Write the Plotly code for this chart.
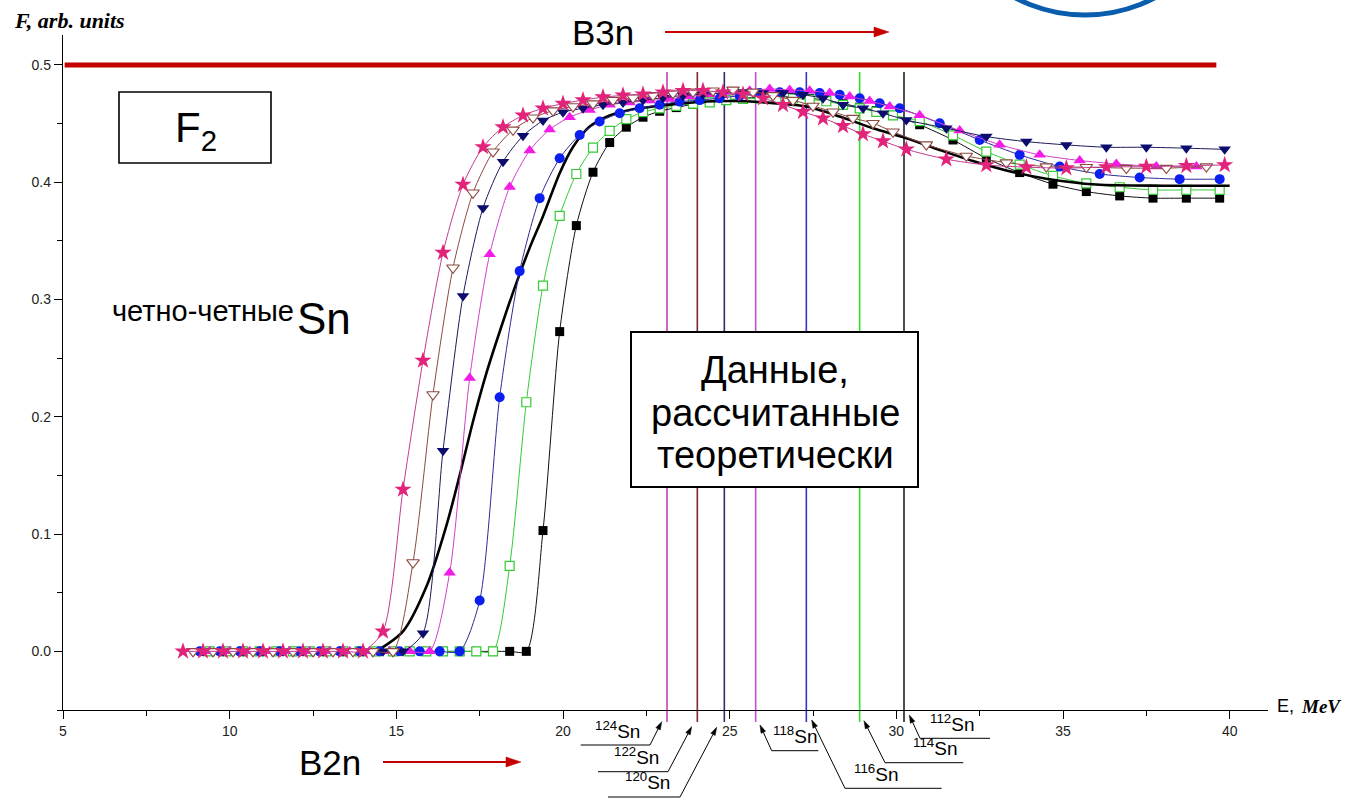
import math
import plotly.graph_objects as go

# ------------------------------------------------------------------ data
# 124Sn (stars)
x_124 = [8.6, 9.2, 9.8, 10.4, 11.0, 11.6, 12.2, 12.8, 13.4, 14.0, 14.6, 15.2, 15.8, 16.4, 17.0,
         17.6, 18.2, 18.8, 19.4, 20.0, 20.6, 21.2, 21.8, 22.4, 23.0, 23.6, 24.2, 24.8, 25.4, 26.0,
         26.6, 27.2, 27.8, 28.4, 29.0, 29.6, 30.3, 31.5, 32.7, 33.9, 35.1, 36.3, 37.5, 38.7, 39.85]
y_124 = [0, 0, 0, 0, 0, 0, 0, 0, 0, 0, 0.017, 0.138, 0.248, 0.340, 0.398,
         0.430, 0.447, 0.457, 0.463, 0.467, 0.470, 0.4725, 0.474, 0.475, 0.4767, 0.478, 0.478, 0.4767, 0.475, 0.4716,
         0.466, 0.460, 0.4545, 0.448, 0.441, 0.435, 0.428, 0.4196, 0.4147, 0.4128, 0.412, 0.413, 0.4133, 0.414, 0.4147]

# 122Sn (open down-triangles)
x_122 = [8.9, 9.5, 10.1, 10.7, 11.3, 11.9, 12.5, 13.1, 13.7, 14.3, 14.9, 15.5, 16.1, 16.7, 17.3,
         17.9, 18.5, 19.1, 19.7, 20.3, 20.9, 21.5, 22.1, 22.7, 23.3, 23.9, 24.5, 25.1, 25.7, 26.3,
         26.9, 27.5, 28.1, 28.7, 29.3, 29.9, 30.9, 32.1, 33.3, 34.5, 35.7, 36.9, 38.1, 39.3]
y_122 = [0, 0, 0, 0, 0, 0, 0, 0, 0, 0, 0, 0.0757, 0.219, 0.327, 0.391,
         0.426, 0.4446, 0.455, 0.461, 0.4645, 0.467, 0.470, 0.472, 0.474, 0.476, 0.477, 0.478, 0.4787, 0.477, 0.474,
         0.470, 0.465, 0.460, 0.4546, 0.4503, 0.443, 0.432, 0.4224, 0.4167, 0.4133, 0.4128, 0.412, 0.412, 0.4133]

# 120Sn (filled down-triangles)
x_120 = [9.2, 9.8, 10.4, 11.0, 11.6, 12.2, 12.8, 13.4, 14.0, 14.6, 15.2, 15.8, 16.4, 17.0,
         17.6, 18.2, 18.8, 19.4, 20.0, 20.6, 21.2, 21.8, 22.4, 23.0, 23.6, 24.2, 24.8, 25.4, 26.0,
         26.6, 27.2, 27.8, 28.4, 29.0, 29.6, 30.3, 31.5, 32.7, 33.9, 35.1, 36.3, 37.5, 38.7, 39.85]
y_120 = [0, 0, 0, 0, 0, 0, 0, 0, 0, 0, 0, 0.0155, 0.171, 0.303,
         0.378, 0.4175, 0.4395, 0.4525, 0.4597, 0.463, 0.466, 0.468, 0.470, 0.472, 0.474, 0.475, 0.476, 0.477, 0.476,
         0.476, 0.4745, 0.4716, 0.466, 0.463, 0.4588, 0.453, 0.446, 0.4389, 0.4346, 0.4318, 0.4298, 0.4298, 0.429, 0.428]

# 118Sn (filled up-triangles)
x_118 = [9.4, 10.0, 10.6, 11.2, 11.8, 12.4, 13.0, 13.6, 14.2, 14.8, 15.4, 16.0, 16.6, 17.2,
         17.8, 18.4, 19.0, 19.6, 20.2, 20.8, 21.4, 22.0, 22.6, 23.2, 23.8, 24.4, 25.0, 25.6, 26.2,
         26.8, 27.4, 28.0, 28.6, 29.2, 29.8, 30.7, 31.9, 33.1, 34.3, 35.5, 36.6, 37.8, 39.0]
y_118 = [0, 0, 0, 0, 0, 0, 0, 0, 0, 0, 0, 0, 0.067, 0.233,
         0.3385, 0.396, 0.427, 0.445, 0.4554, 0.4616, 0.466, 0.468, 0.4696, 0.471, 0.473, 0.475, 0.477, 0.478, 0.4795,
         0.4787, 0.478, 0.476, 0.473, 0.4693, 0.4645, 0.457, 0.444, 0.432, 0.4233, 0.4185, 0.4156, 0.4133, 0.4133]

# 116Sn (filled circles)
x_116 = [9.1, 9.7, 10.3, 10.9, 11.5, 12.1, 12.7, 13.3, 13.9, 14.5, 15.1, 15.7, 16.3, 16.9,
         17.5, 18.1, 18.7, 19.3, 19.9, 20.5, 21.1, 21.7, 22.3, 22.9, 23.5, 24.1, 24.7, 25.3, 25.9,
         26.5, 27.1, 27.7, 28.3, 28.9, 29.5, 30.1, 31.3, 32.5, 33.7, 34.9, 36.1, 37.3, 38.5, 39.7]
y_116 = [0, 0, 0, 0, 0, 0, 0, 0, 0, 0, 0, 0, 0, 0,
         0.0433, 0.2167, 0.3242, 0.3864, 0.4204, 0.4403, 0.4517, 0.4588, 0.463, 0.466, 0.4687, 0.470, 0.4716, 0.4738, 0.476,
         0.4767, 0.4767, 0.476, 0.4745, 0.4716, 0.4673, 0.463, 0.4503, 0.436, 0.4233, 0.4133, 0.407, 0.404, 0.4026, 0.4026]

# 114Sn (open squares)
x_114 = [9.4, 9.9, 10.4, 10.9, 11.4, 11.9, 12.4, 12.9, 13.4, 13.9, 14.4, 14.9, 15.4, 15.9, 16.4,
         16.9, 17.4, 17.9, 18.4, 18.9, 19.4, 19.9, 20.4, 20.9, 21.4, 21.9, 22.4, 22.9, 23.4, 23.9,
         24.4, 24.9, 25.4, 25.9, 26.4, 26.9, 27.4, 27.9, 28.4, 28.9, 29.4, 29.9, 30.7, 31.7, 32.7,
         33.7, 34.7, 35.7, 36.7, 37.7, 38.7, 39.7]
y_114 = [0, 0, 0, 0, 0, 0, 0, 0, 0, 0, 0, 0, 0, 0, 0,
         0, 0, 0, 0.0729, 0.2124, 0.3119, 0.3713, 0.407, 0.4295, 0.4437, 0.4537, 0.4597, 0.463, 0.465, 0.467,
         0.468, 0.470, 0.471, 0.4715, 0.472, 0.4715, 0.4705, 0.469, 0.466, 0.463, 0.460, 0.457, 0.452, 0.440, 0.4261,
         0.415, 0.4054, 0.399, 0.3957, 0.3934, 0.3934, 0.3934]

# 112Sn (filled squares)
x_112 = [9.4, 9.9, 10.4, 10.9, 11.4, 11.9, 12.4, 12.9, 13.4, 13.9, 14.4, 14.9, 15.4, 15.9, 16.4,
         16.9, 17.4, 17.9, 18.4, 18.9, 19.4, 19.9, 20.4, 20.9, 21.4, 21.9, 22.4, 22.9, 23.4, 23.9,
         24.4, 24.9, 25.4, 25.9, 26.4, 26.9, 27.4, 27.9, 28.4, 28.9, 29.4, 29.9, 30.7, 31.7, 32.7,
         33.7, 34.7, 35.7, 36.7, 37.7, 38.7, 39.7]
y_112 = [0, 0, 0, 0, 0, 0, 0, 0, 0, 0, 0, 0, 0, 0, 0,
         0, 0, 0, 0, 0, 0.103, 0.2726, 0.363, 0.4085, 0.4338, 0.4469, 0.4554, 0.4605, 0.4636, 0.4665,
         0.468, 0.470, 0.4715, 0.4725, 0.473, 0.4725, 0.4715, 0.470, 0.467, 0.464, 0.461, 0.457, 0.449, 0.436, 0.4204,
         0.4082, 0.3983, 0.392, 0.3883, 0.3864, 0.3864, 0.3864]

# thick black curve
x_thick = [14.4, 15.2, 15.9, 16.5, 16.9, 17.3, 17.7, 18.2, 18.6, 19.0, 19.4, 19.9, 20.3, 20.8, 21.4,
           22.0, 22.7, 23.5, 24.5, 25.5, 26.5, 27.3, 28.3, 29.3, 30.3, 31.3, 32.3, 33.3, 34.5, 36.0, 38.0, 40.0]
y_thick = [0, 0.017, 0.055, 0.107, 0.150, 0.196, 0.237, 0.281, 0.314, 0.344, 0.371, 0.4077, 0.430, 0.4474, 0.457,
           0.4616, 0.4645, 0.467, 0.469, 0.469, 0.467, 0.4645, 0.456, 0.446, 0.4375, 0.4275, 0.418, 0.410, 0.403, 0.398, 0.397, 0.397]

# thresholds (vertical lines) and their labels
iso_labels = ["124", "122", "120", "118", "116", "114", "112"]
iso_energy = [23.12, 24.03, 24.84, 25.78, 27.30, 28.90, 30.23]
iso_colors = ["#c040b0", "#7a2a2a", "#2e2e6e", "#c050d0", "#3434c4", "#30e030", "#222222"]

x_ticks = [5, 10, 15, 20, 25, 30, 35, 40]
y_ticks = [0.0, 0.1, 0.2, 0.3, 0.4, 0.5]
level_limit = 0.5

# ------------------------------------------------------------------ layout geometry
W, H = 1363, 798
ML, MR, MT, MB = 63, 95, 35, 88
X_RANGE = [5, 41.15]
Y_RANGE = [-0.05, 0.5255]
PW, PH = W - ML - MR, H - MT - MB


def pxp(xp):  # pixel x -> paper
    return (xp - ML) / PW


def pyp(yp):  # pixel y -> paper
    return (H - MB - yp) / PH


def xd(v):  # data x -> paper
    return (v - X_RANGE[0]) / (X_RANGE[1] - X_RANGE[0])


SANS = "Arial, Liberation Sans, sans-serif"
SERIF = "Times New Roman, Liberation Serif, serif"

fig = go.Figure()


def series(x, y, sym, mcol, lcol, size, mline=None, lw=1.0):
    fig.add_trace(go.Scatter(
        x=x, y=y, mode="lines+markers",
        line=dict(color=lcol, width=lw, shape="spline", smoothing=0.7),
        marker=dict(symbol=sym, color=mcol, size=size,
                    line=mline if mline else dict(width=0)),
        showlegend=False, hoverinfo="skip"))


series(x_112, y_112, "square", "#000000", "#111111", 9)
series(x_114, y_114, "square", "#ffffff", "#33cc33", 9, dict(color="#33cc33", width=1.2))
fig.add_trace(go.Scatter(x=x_thick, y=y_thick, mode="lines",
                         line=dict(color="#000000", width=2.6, shape="spline", smoothing=0.8),
                         showlegend=False, hoverinfo="skip"))
series(x_116, y_116, "circle", "#0a1ff0", "#2b2b9a", 10)
series(x_118, y_118, "triangle-up", "#f21ce6", "#d040c8", 11)
series(x_120, y_120, "triangle-down", "#0c0c6e", "#1a1a5a", 11)
series(x_122, y_122, "triangle-down", "#ffffff", "#8b4a40", 11, dict(color="#8b4a40", width=1.1))
series(x_124, y_124, "star", "#e2237a", "#c03c90", 13)

shapes = []
# red limit line at 0.5
shapes.append(dict(type="line", xref="x", yref="y", x0=5.05, x1=39.6, y0=level_limit, y1=level_limit,
                   line=dict(color="#c40000", width=5)))
# vertical threshold lines
for e, c in zip(iso_energy, iso_colors):
    shapes.append(dict(type="line", xref="paper", yref="paper", x0=xd(e), x1=xd(e),
                       y0=pyp(722), y1=pyp(72), line=dict(color=c, width=1.6), layer="below"))
# boxes
shapes.append(dict(type="rect", xref="paper", yref="paper", x0=pxp(119), x1=pxp(271),
                   y0=pyp(163), y1=pyp(92), line=dict(color="#000", width=1.6)))
shapes.append(dict(type="rect", xref="paper", yref="paper", x0=pxp(631), x1=pxp(918),
                   y0=pyp(487), y1=pyp(332), line=dict(color="#000", width=2), fillcolor="#ffffff"))
# blue arc (partial circle at the top edge)
shapes.append(dict(type="circle", xref="paper", yref="paper", x0=pxp(935), x1=pxp(1235),
                   y0=pyp(15), y1=pyp(-285), line=dict(color="#0a5cad", width=5)))


def arrow(x0, y0, x1, y1, color, width, hl, hw):
    """line from (x0,y0) to tip (x1,y1) in pixels, with a filled head"""
    d = math.hypot(x1 - x0, y1 - y0)
    ux, uy = (x1 - x0) / d, (y1 - y0) / d
    bx, by = x1 - ux * hl, y1 - uy * hl
    shapes.append(dict(type="line", xref="paper", yref="paper", x0=pxp(x0), y0=pyp(y0),
                       x1=pxp(bx), y1=pyp(by), line=dict(color=color, width=width)))
    p1 = (bx - uy * hw / 2, by + ux * hw / 2)
    p2 = (bx + uy * hw / 2, by - ux * hw / 2)
    path = "M {:.5f} {:.5f} L {:.5f} {:.5f} L {:.5f} {:.5f} Z".format(
        pxp(x1), pyp(y1), pxp(p1[0]), pyp(p1[1]), pxp(p2[0]), pyp(p2[1]))
    shapes.append(dict(type="path", xref="paper", yref="paper", path=path,
                       fillcolor=color, line=dict(color=color, width=0.5)))


annotations = []


def txt(x, y, s, size, family=SANS, xanchor="center", yanchor="middle", color="#000"):
    annotations.append(dict(xref="paper", yref="paper", x=pxp(x), y=pyp(y), text=s, showarrow=False,
                            xanchor=xanchor, yanchor=yanchor, font=dict(family=family, size=size, color=color)))


# isotope callouts: (tip_x, tip_y, knee_x, knee_y, line_end_x, text_cx, text_bottom)
callouts = [
    (661.7, 721.7, 650.0, 745.0, 580.7, 617, 744),
    (691.7, 726.7, 668.0, 771.7, 598.0, 636, 770),
    (716.7, 727.3, 680.0, 797.0, 608.0, 647, 795),
    (760.0, 725.0, 771.7, 750.7, 818.3, 795, 749),
    (811.7, 720.0, 845.0, 788.3, 941.7, 876, 787),
    (864.0, 720.7, 885.0, 762.7, 963.3, 935, 761),
    (909.3, 715.0, 920.0, 738.3, 990.0, 952, 737),
]
for lab, (tx, ty, kx, ky, ex, cx, cb) in zip(iso_labels, callouts):
    shapes.append(dict(type="line", xref="paper", yref="paper", x0=pxp(kx), x1=pxp(ex),
                       y0=pyp(ky), y1=pyp(ky), line=dict(color="#000", width=1)))
    arrow(kx, ky, tx, ty, "#000", 1, 8, 5)
    txt(cx, cb, f"<sup>{lab}</sup>Sn", 19, yanchor="bottom")

# red arrows
arrow(665, 32, 889, 32, "#c40000", 2, 15, 10)
arrow(383, 762, 521, 762, "#c40000", 2, 15, 10)

txt(603, 33, "B3n", 35)
txt(330, 762, "B2n", 35)
txt(12, 20, "<b><i>F, arb. units</i></b>", 22, SERIF, xanchor="left")
txt(196, 130, "F<sub>2</sub>", 42)
txt(110, 311, "четно-четные", 29, xanchor="left")
txt(295, 318, "Sn", 44, xanchor="left")
txt(775, 370, "Данные,", 38)
txt(775, 413, "рассчитанные", 38)
txt(775, 455, "теоретически", 38)
txt(1275, 706, "E,", 18, xanchor="left")
txt(1299, 706, "<b><i>MeV</i></b>", 19, SERIF, xanchor="left")

fig.update_layout(
    width=W, height=H, margin=dict(l=ML, r=MR, t=MT, b=MB, pad=0),
    paper_bgcolor="#ffffff", plot_bgcolor="rgba(0,0,0,0)",
    shapes=shapes, annotations=annotations, showlegend=False,
    xaxis=dict(range=X_RANGE, showgrid=False, zeroline=False, showline=True, linecolor="#000", linewidth=1.4,
               ticks="outside", ticklen=8, tickwidth=1.2, tickcolor="#000", tickvals=x_ticks,
               tickfont=dict(family=SANS, size=14, color="#222"),
               minor=dict(dtick=2.5, tick0=5, ticks="outside", ticklen=5, tickwidth=1, tickcolor="#000")),
    yaxis=dict(range=Y_RANGE, showgrid=False, zeroline=False, showline=True, linecolor="#000", linewidth=1.4,
               ticks="outside", ticklen=8, tickwidth=1.2, tickcolor="#000", tickvals=y_ticks,
               tickformat=".1f", tickfont=dict(family=SANS, size=14, color="#222"),
               minor=dict(dtick=0.05, tick0=0, ticks="outside", ticklen=5, tickwidth=1, tickcolor="#000")),
)

fig.write_html("out.html")
